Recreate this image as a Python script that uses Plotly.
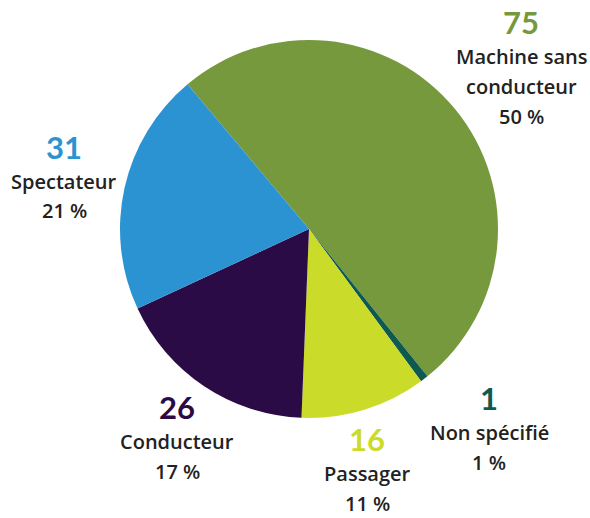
import plotly.graph_objects as go

categories = ["Machine sans conducteur", "Non spécifié", "Passager", "Conducteur", "Spectateur"]
label_lines = [["Machine sans", "conducteur"], ["Non spécifié"], ["Passager"], ["Conducteur"], ["Spectateur"]]
values = [75, 1, 16, 26, 31]
colors = ["#76993E", "#0E5A50", "#CADB2A", "#2A0B45", "#2B93D1"]

# label anchor positions (pixels from top-left): x centre, y of number
anchors = [(521, 22), (489, 398), (367, 439), (177, 407), (64, 147)]

W, H = 590, 518
total = sum(values)

fig = go.Figure(go.Pie(
    labels=categories, values=values, sort=False, direction="clockwise",
    rotation=-40, marker=dict(colors=colors, line=dict(width=0)),
    textinfo="none", hoverinfo="skip", showlegend=False,
    domain=dict(x=[(309 - 189) / W, (309 + 189) / W], y=[1 - (229 + 189) / H, 1 - (229 - 189) / H]),
))

annotations = []
for lines, v, c, (ax, ay) in zip(label_lines, values, colors, anchors):
    annotations.append(dict(x=ax / W, y=1 - ay / H, xref="paper", yref="paper", text=f"<b>{v}</b>",
                            showarrow=False, xanchor="center", yanchor="middle",
                            font=dict(family="Lato", size=31, color=c, weight=900)))
    y = ay + 34
    for ln in lines + [f"{round(v / total * 100)} %"]:
        annotations.append(dict(x=ax / W, y=1 - y / H, xref="paper", yref="paper", text=ln,
                                showarrow=False, xanchor="center", yanchor="middle",
                                font=dict(family="Open Sans", size=20, color="#222222", weight=600)))
        y += 30

fig.update_layout(width=W, height=H, margin=dict(l=0, r=0, t=0, b=0),
                  paper_bgcolor="white", plot_bgcolor="white", annotations=annotations)
fig.write_html("out.html", config={"displayModeBar": False},
               post_script="document.body.style.margin='0';document.body.style.overflow='hidden';")
